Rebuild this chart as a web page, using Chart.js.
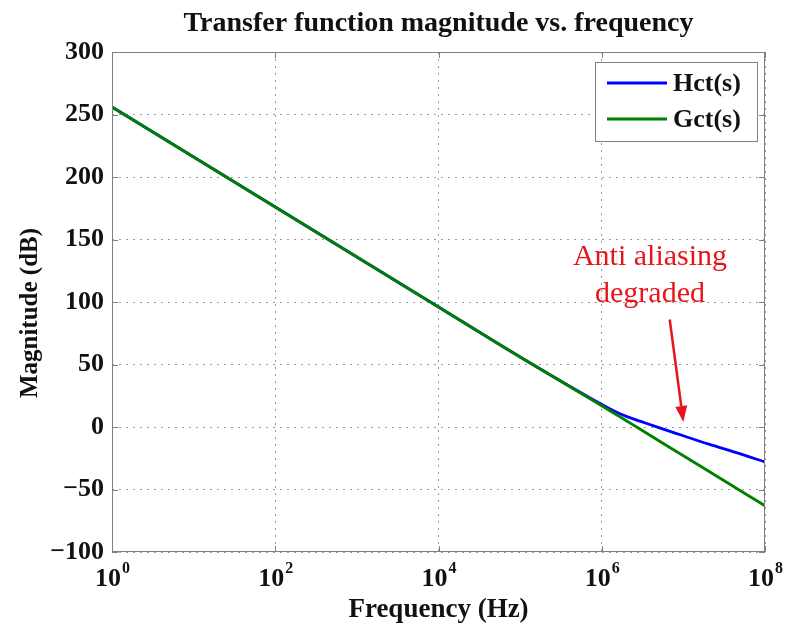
<!DOCTYPE html>
<html>
<head>
<meta charset="utf-8">
<script src="https://cdn.jsdelivr.net/npm/chart.js@4.4.1/dist/chart.umd.min.js"></script>
<style>
  html, body { margin: 0; padding: 0; background: #fff; }
  #wrap { width: 785px; height: 632px; }
</style>
</head>
<body>
<div id="wrap"><canvas id="chart" width="785" height="632"></canvas></div>
<script>
// frequency points (Hz)
const freqHz = [1, 10, 100, 1e3, 1e4, 1e5, 1e6, 1.5e6, 2e6, 3e6, 5e6, 1e7, 2e7, 5e7, 1e8];
// magnitudes (dB)
const hctDb = [256, 216, 176, 136, 96, 56, 18, 12, 8.5, 4.5, -0.5, -7, -13.5, -21.5, -28];
const gctDb = [256, 216, 176, 136, 96, 56, 17, 10, 5, -2, -11, -23, -35, -51, -63];

const xTickValues = [1, 1e2, 1e4, 1e6, 1e8];
const xTickBase = '10';
const xTickExp = ['0', '2', '4', '6', '8'];
const yTickValues = [-100, -50, 0, 50, 100, 150, 200, 250, 300];

const seriesNames = ['Hct(s)', 'Gct(s)'];
const seriesColors = ['#0000ff', '#008000'];

const chartTitle = 'Transfer function magnitude vs. frequency';
const yTitle = 'Magnitude (dB)';

const noteLines = ['Anti aliasing', 'degraded'];
const noteAt = { x: 3.9e6, y: 136 };
const arrowFrom = { x: 6.8e6, y: 86 };
const arrowTo = { x: 1e7, y: 4 };

const serif = '"Liberation Serif", "Times New Roman", serif';

const framePlugin = {
    id: 'frame',
    afterDatasetsDraw(chart) {
        const ctx = chart.ctx;
        const a = chart.chartArea;
        const xs = chart.scales.x, ys = chart.scales.y;
        ctx.save();
        ctx.strokeStyle = '#808080';
        ctx.lineWidth = 1;
        ctx.strokeRect(a.left + 0.5, a.top + 0.5, a.right - a.left - 1, a.bottom - a.top - 1);
        ctx.beginPath();
        xTickValues.forEach(v => {
            const px = Math.round(xs.getPixelForValue(v)) + 0.5;
            ctx.moveTo(px, a.bottom); ctx.lineTo(px, a.bottom - 6);
            ctx.moveTo(px, a.top); ctx.lineTo(px, a.top + 6);
        });
        yTickValues.forEach(v => {
            const py = Math.round(ys.getPixelForValue(v)) + 0.5;
            ctx.moveTo(a.left, py); ctx.lineTo(a.left + 6, py);
            ctx.moveTo(a.right, py); ctx.lineTo(a.right - 6, py);
        });
        ctx.stroke();

        // title, centred over the plot box
        ctx.fillStyle = '#111';
        ctx.textAlign = 'center';
        ctx.textBaseline = 'alphabetic';
        ctx.font = 'bold 28px ' + serif;
        ctx.fillText(chartTitle, (a.left + a.right) / 2, 31);

        // y axis title
        ctx.save();
        ctx.translate(31, 313);
        ctx.rotate(-Math.PI / 2);
        ctx.textBaseline = 'middle';
        ctx.font = 'bold 25px ' + serif;
        ctx.fillText(yTitle, 0, 0);
        ctx.restore();

        // x tick labels: 10 with raised exponent
        xTickValues.forEach((v, i) => {
            const px = xs.getPixelForValue(v);
            ctx.font = 'bold 26px ' + serif;
            const wb = ctx.measureText(xTickBase).width;
            ctx.font = 'bold 16px ' + serif;
            const we = ctx.measureText(xTickExp[i]).width;
            const left = px - (wb + we) / 2;
            ctx.textAlign = 'left';
            ctx.font = 'bold 26px ' + serif;
            ctx.fillText(xTickBase, left, 586);
            ctx.font = 'bold 16px ' + serif;
            ctx.fillText(xTickExp[i], left + wb + 1, 573);
        });

        // legend box
        const bw = 162, bh = 79;
        const bx = a.right - bw - 8, by = a.top + 10;
        ctx.fillStyle = '#fff';
        ctx.fillRect(bx, by, bw, bh);
        ctx.strokeStyle = '#808080';
        ctx.strokeRect(bx + 0.5, by + 0.5, bw, bh);
        ctx.font = 'bold 26px ' + serif;
        ctx.textAlign = 'left';
        ctx.textBaseline = 'middle';
        seriesNames.forEach((name, i) => {
            const ly = by + 21 + i * 36;
            ctx.strokeStyle = seriesColors[i];
            ctx.lineWidth = 3;
            ctx.beginPath();
            ctx.moveTo(bx + 12, ly); ctx.lineTo(bx + 72, ly);
            ctx.stroke();
            ctx.fillStyle = '#111';
            ctx.fillText(name, bx + 78, ly + 1);
        });

        // annotation
        ctx.fillStyle = '#e8141c';
        ctx.strokeStyle = '#e8141c';
        ctx.font = '30px ' + serif;
        ctx.textAlign = 'center';
        ctx.textBaseline = 'middle';
        const tx = xs.getPixelForValue(noteAt.x);
        const ty = ys.getPixelForValue(noteAt.y);
        noteLines.forEach((t, i) => ctx.fillText(t, tx, ty + i * 37));
        const x0 = xs.getPixelForValue(arrowFrom.x), y0 = ys.getPixelForValue(arrowFrom.y);
        const x1 = xs.getPixelForValue(arrowTo.x), y1 = ys.getPixelForValue(arrowTo.y);
        const ang = Math.atan2(y1 - y0, x1 - x0);
        const hl = 16, hw = 6;
        const bxh = x1 - hl * Math.cos(ang), byh = y1 - hl * Math.sin(ang);
        ctx.lineWidth = 2.5;
        ctx.beginPath();
        ctx.moveTo(x0, y0); ctx.lineTo(bxh, byh);
        ctx.stroke();
        ctx.beginPath();
        ctx.moveTo(x1, y1);
        ctx.lineTo(bxh + hw * Math.sin(ang), byh - hw * Math.cos(ang));
        ctx.lineTo(bxh - hw * Math.sin(ang), byh + hw * Math.cos(ang));
        ctx.closePath();
        ctx.fill();
        ctx.restore();
    }
};

function buildDatasets() {
    const vals = [hctDb, gctDb];
    return seriesNames.map((name, i) => ({
        label: name,
        data: freqHz.map((f, k) => ({ x: f, y: vals[i][k] })),
        borderColor: seriesColors[i],
        backgroundColor: seriesColors[i],
        borderWidth: 2.8,
        pointRadius: 0,
        cubicInterpolationMode: 'monotone',
        order: i === 0 ? 1 : 0
    }));
}

window.addEventListener('load', () => {
    const ctx = document.getElementById('chart').getContext('2d');
    new Chart(ctx, {
        type: 'line',
        data: { datasets: buildDatasets() },
        plugins: [framePlugin],
        options: {
            responsive: false,
            animation: false,
            layout: { padding: { left: 0, right: 20, top: 52, bottom: 0 } },
            plugins: {
                legend: { display: false },
                tooltip: { enabled: false },
                title: { display: false }
            },
            scales: {
                x: {
                    type: 'logarithmic',
                    min: 1,
                    max: 1e8,
                    afterBuildTicks: s => { s.ticks = xTickValues.map(v => ({ value: v })); },
                    afterFit: s => { s.height = 80; },
                    ticks: {
                        autoSkip: false,
                        maxRotation: 0,
                        callback: () => ''
                    },
                    grid: { color: '#9a9a9a', drawTicks: false, lineWidth: 1 },
                    border: { display: false, dash: [2, 5] },
                    title: {
                        display: true,
                        text: 'Frequency (Hz)',
                        color: '#111',
                        font: { family: serif, size: 27, weight: 'bold' },
                        padding: { top: 0, bottom: 6 }
                    }
                },
                y: {
                    min: -100,
                    max: 300,
                    afterBuildTicks: s => { s.ticks = yTickValues.map(v => ({ value: v })); },
                    afterFit: s => { s.width = 112; },
                    ticks: {
                        color: '#111',
                        font: { family: serif, size: 26, weight: 'bold' },
                        padding: 8,
                        callback: v => String(v).replace('-', '\u2212')
                    },
                    grid: { color: '#9a9a9a', drawTicks: false, lineWidth: 1 },
                    border: { display: false, dash: [2, 5] }
                }
            }
        }
    });
});
</script>
</body>
</html>
